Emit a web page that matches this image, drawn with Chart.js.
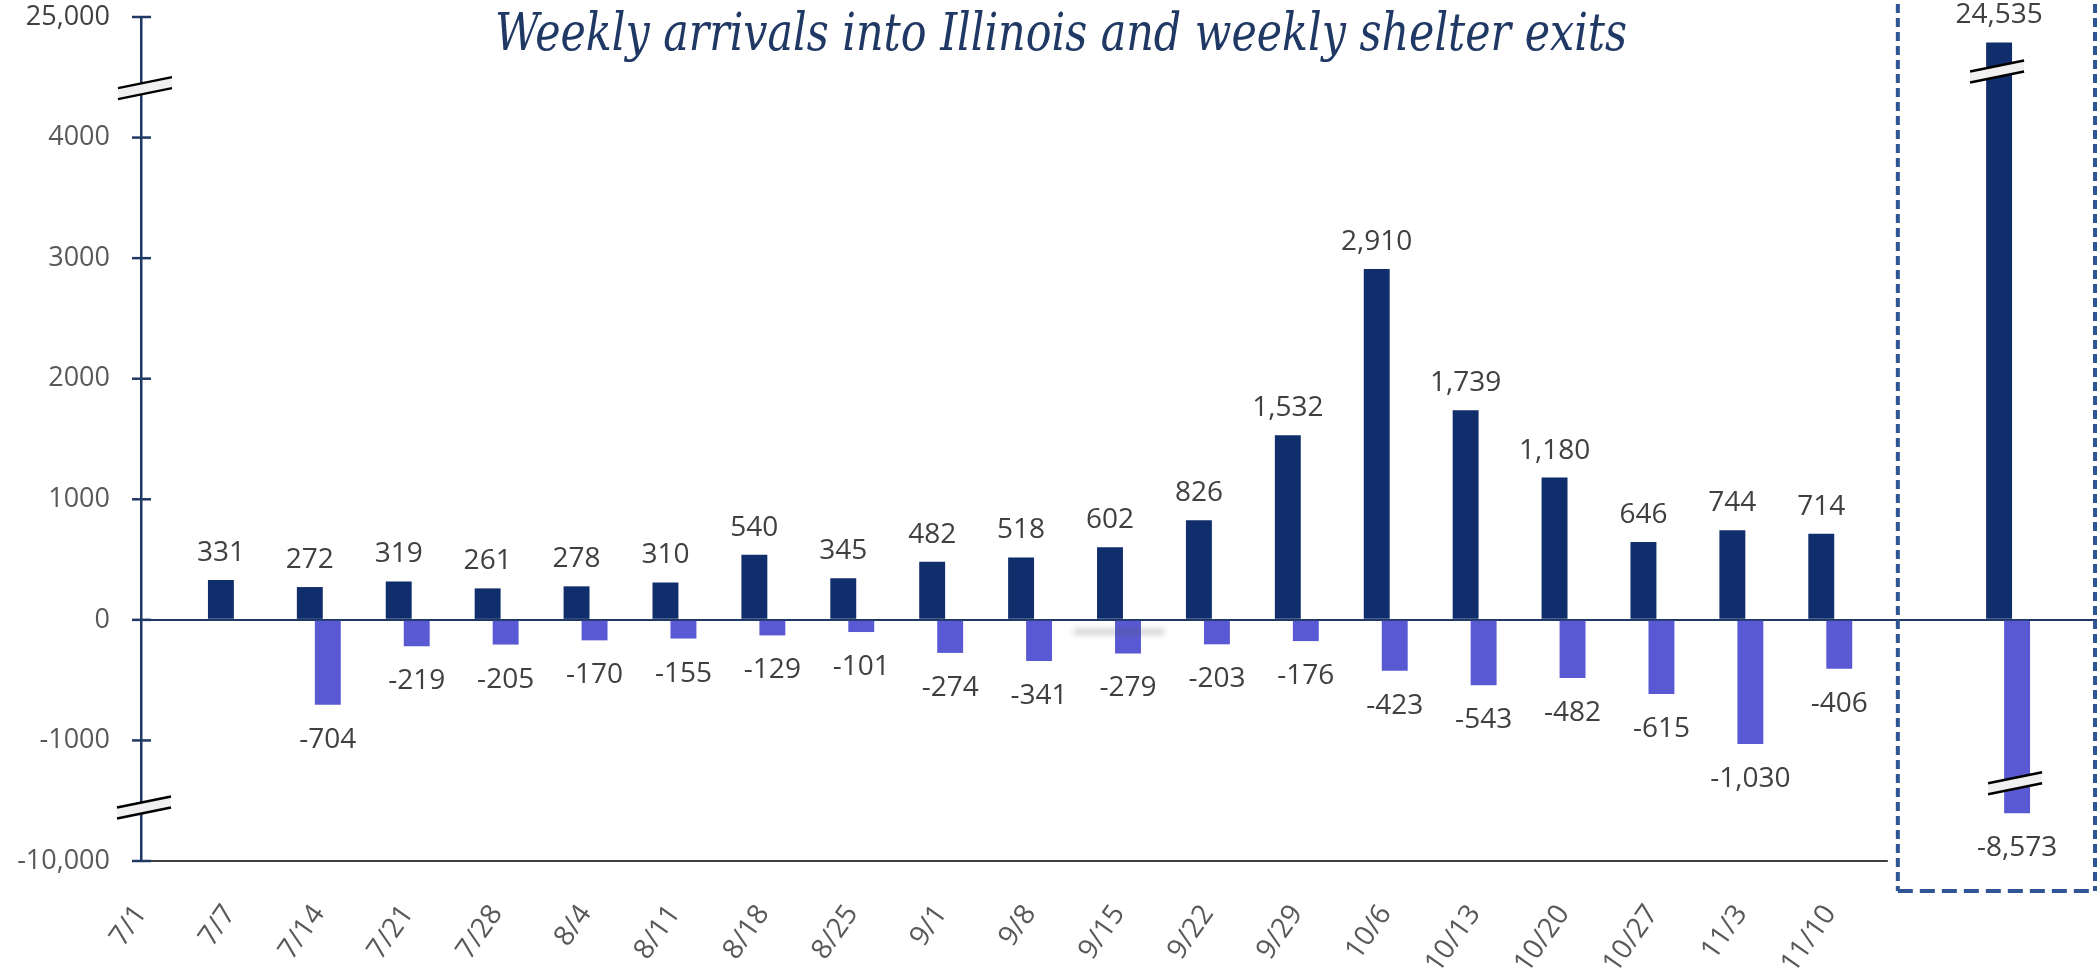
<!DOCTYPE html>
<html>
<head>
<meta charset="utf-8">
<title>Weekly arrivals into Illinois and weekly shelter exits</title>
<script src="https://cdn.jsdelivr.net/npm/chart.js@4.4.1/dist/chart.umd.min.js"></script>
<style>
    html, body { margin: 0; padding: 0; background: #fff; }
    #wrap { width: 2100px; height: 976px; position: relative; }
</style>
</head>
<body>
<div id="wrap"><canvas id="arrivalsChart"></canvas></div>
<script>
// Week labels (three blank slots at the end hold the totals column)
const weeks = ['7/1', '7/7', '7/14', '7/21', '7/28', '8/4', '8/11', '8/18', '8/25', '9/1',
    '9/8', '9/15', '9/22', '9/29', '10/6', '10/13', '10/20', '10/27', '11/3', '11/10', '', '', ''];

// Weekly arrivals (navy) and weekly shelter exits (purple); index 21 = total
const arrivals = [null, 331, 272, 319, 261, 278, 310, 540, 345, 482,
    518, 602, 826, 1532, 2910, 1739, 1180, 646, 744, 714, null, 24535, null];
const exits = [null, null, -704, -219, -205, -170, -155, -129, -101, -274,
    -341, -279, -203, -176, -423, -543, -482, -615, -1030, -406, null, -8573, null];

// Broken value axis: real values -> plotted values
const axisReal = [-10000, -8400, -1556, 4410, 23700, 25000];
const axisShown = [-2000, -1556, -1556, 4410, 4410, 5000];

// Tick positions on the plotted scale and the labels they carry
const yTickShown = [-2000, -1000, 0, 1000, 2000, 3000, 4000, 5000];
const yTickLabels = ['-10,000', '-1000', '0', '1000', '2000', '3000', '4000', '25,000'];

const titleText = 'Weekly arrivals into Illinois and weekly shelter exits';

const NAVY = '#102d6c';
const PURPLE = '#5959d4';
const AXIS = '#1f3864';

function toShown(v) {
    if (v === null) return null;
    for (let i = 0; i < axisReal.length - 1; i++) {
        if (v >= axisReal[i] && v <= axisReal[i + 1]) {
            const t = (v - axisReal[i]) / (axisReal[i + 1] - axisReal[i]);
            return axisShown[i] + t * (axisShown[i + 1] - axisShown[i]);
        }
    }
    return v;
}

function fmt(v) {
    return Math.abs(v) >= 1000 ? v.toLocaleString('en-US') : String(v);
}

function drawBreak(ctx, cx, cy) {
    const hw = 27, rise = 5.5, gap = 5.5;
    ctx.save();
    ctx.beginPath();
    ctx.moveTo(cx - hw, cy + rise - gap);
    ctx.lineTo(cx + hw, cy - rise - gap);
    ctx.lineTo(cx + hw, cy - rise + gap);
    ctx.lineTo(cx - hw, cy + rise + gap);
    ctx.closePath();
    ctx.fillStyle = '#f0f0f0';
    ctx.fill();
    ctx.strokeStyle = '#000';
    ctx.lineWidth = 2.5;
    ctx.beginPath();
    ctx.moveTo(cx - hw, cy + rise - gap);
    ctx.lineTo(cx + hw, cy - rise - gap);
    ctx.moveTo(cx - hw, cy + rise + gap);
    ctx.lineTo(cx + hw, cy - rise + gap);
    ctx.stroke();
    ctx.restore();
}

// Title, labels, axis decorations and the dashed totals box
const decorations = {
    id: 'decorations',
    afterDraw(chart) {
        const ctx = chart.ctx;
        const area = chart.chartArea;
        const x = chart.scales.x;
        const y = chart.scales.y;

        // faint smudge under 9/15
        ctx.save();
        ctx.filter = 'blur(3px)';
        ctx.strokeStyle = 'rgba(90,90,90,0.35)';
        ctx.lineWidth = 5;
        const sx = x.getPixelForValue(11);
        ctx.beginPath();
        ctx.moveTo(sx - 45, y.getPixelForValue(0) + 12);
        ctx.lineTo(sx + 45, y.getPixelForValue(0) + 12);
        ctx.stroke();
        ctx.restore();

        // bottom axis line (stops before the totals box)
        const boxLeft = x.getPixelForValue(19.76);
        ctx.save();
        ctx.strokeStyle = '#404040';
        ctx.lineWidth = 2;
        ctx.beginPath();
        ctx.moveTo(area.left, area.bottom);
        ctx.lineTo(boxLeft - 10, area.bottom);
        ctx.stroke();

        // y axis tick marks crossing the axis
        ctx.strokeStyle = AXIS;
        ctx.lineWidth = 2.5;
        yTickShown.forEach(v => {
            const py = y.getPixelForValue(v);
            ctx.beginPath();
            ctx.moveTo(area.left - 9, py);
            ctx.lineTo(area.left + 10, py);
            ctx.stroke();
        });
        ctx.restore();

        drawBreak(ctx, area.left + 4, y.getPixelForValue(4410));
        drawBreak(ctx, area.left + 3, y.getPixelForValue(-1556));

        // data labels
        ctx.save();
        ctx.font = "28px 'Open Sans'";
        ctx.fillStyle = '#404040';
        ctx.textAlign = 'center';
        ctx.textBaseline = 'alphabetic';
        const series = [arrivals, exits];
        chart.data.datasets.forEach((ds, di) => {
            const meta = chart.getDatasetMeta(di);
            meta.data.forEach((bar, i) => {
                const v = series[di][i];
                if (v === null) return;
                if (v >= 0) ctx.fillText(fmt(v), bar.x, bar.y - 19);
                else ctx.fillText(fmt(v), bar.x, bar.y + 43);
            });
        });
        ctx.restore();

        // break marks on the two totals bars
        const topBar = chart.getDatasetMeta(0).data[21];
        const lowBar = chart.getDatasetMeta(1).data[21];
        drawBreak(ctx, topBar.x - 2, topBar.y + 29);
        drawBreak(ctx, lowBar.x - 2, lowBar.y - 30);

        // dashed totals box
        ctx.save();
        ctx.strokeStyle = '#2f5597';
        ctx.lineWidth = 4;
        const bl = boxLeft, br = area.right - 2, bt = -10, bb = area.bottom + 30;
        ctx.setLineDash([9, 5]);
        ctx.beginPath();
        ctx.moveTo(bl, bt); ctx.lineTo(bl, bb);
        ctx.moveTo(br, bt); ctx.lineTo(br, bb);
        ctx.stroke();
        ctx.setLineDash([15, 7]);
        ctx.beginPath();
        ctx.moveTo(bl, bb); ctx.lineTo(br, bb);
        ctx.stroke();
        ctx.restore();

        // title, condensed to the reference width
        ctx.save();
        ctx.font = "italic 53px 'DejaVu Serif Condensed', 'DejaVu Serif', serif";
        const w = ctx.measureText(titleText).width;
        ctx.translate(1061, 50);
        ctx.scale(1132 / w, 1);
        ctx.fillStyle = AXIS;
        ctx.textAlign = 'center';
        ctx.textBaseline = 'alphabetic';
        ctx.fillText(titleText, 0, 0);
        ctx.restore();
    }
};

const ctx = document.getElementById('arrivalsChart').getContext('2d');
const arrivalsChart = new Chart(ctx, {
    type: 'bar',
    data: {
        labels: weeks,
        datasets: [{
            label: 'Weekly arrivals',
            data: arrivals.map(toShown),
            backgroundColor: NAVY,
            categoryPercentage: 0.405,
            barPercentage: 1.44
        }, {
            label: 'Weekly shelter exits',
            data: exits.map(toShown),
            backgroundColor: PURPLE,
            categoryPercentage: 0.405,
            barPercentage: 1.44
        }]
    },
    options: {
        responsive: true,
        maintainAspectRatio: false,
        animation: false,
        layout: {
            padding: { top: 17, right: 3, bottom: 0, left: 0 }
        },
        scales: {
            x: {
                offset: false,
                grid: { display: false },
                border: { display: false },
                ticks: {
                    autoSkip: false,
                    minRotation: 55,
                    maxRotation: 55,
                    padding: 30,
                    color: '#595959',
                    font: { family: 'Open Sans', size: 28 }
                },
                afterFit(scale) {
                    scale.height = 115;
                    scale.paddingLeft = 0;
                    scale.paddingRight = 0;
                }
            },
            y: {
                min: -2000,
                max: 5000,
                afterBuildTicks(scale) {
                    scale.ticks = yTickShown.map(v => ({ value: v }));
                },
                grid: {
                    drawTicks: false,
                    lineWidth: 2,
                    color: c => (c.tick && c.tick.value === 0 ? AXIS : 'rgba(0,0,0,0)')
                },
                border: { display: true, color: AXIS, width: 2.5 },
                ticks: {
                    padding: 31,
                    color: c => (Math.abs(c.tick.value) > 4000 ? '#404040' : '#595959'),
                    font: { family: 'Open Sans', size: 27 },
                    callback: v => yTickLabels[yTickShown.indexOf(v)]
                },
                afterFit(scale) {
                    scale.width = 141;
                    scale.paddingTop = 0;
                    scale.paddingBottom = 0;
                }
            }
        },
        plugins: {
            legend: { display: false },
            tooltip: { enabled: false }
        }
    },
    plugins: [decorations]
});
</script>
</body>
</html>
